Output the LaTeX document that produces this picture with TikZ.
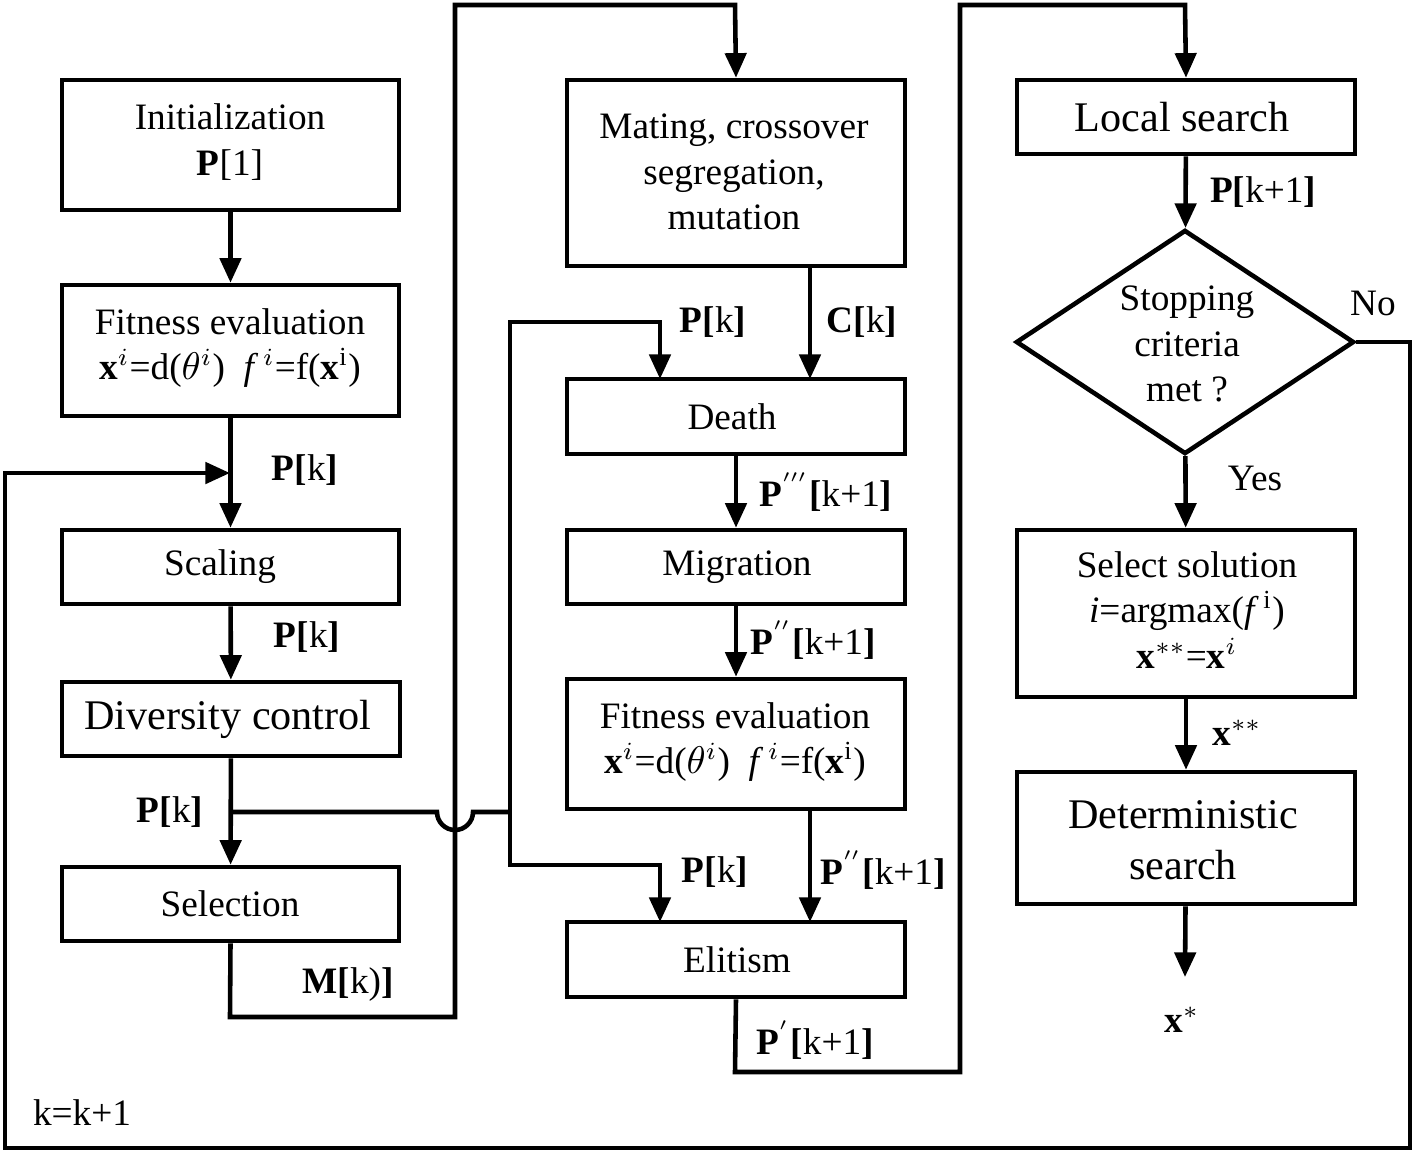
\documentclass[tikz,border=0pt]{standalone}
\usepackage{fontspec}
\setmainfont{Liberation Serif}
\usetikzlibrary{shapes.geometric,arrows.meta}
\begin{document}
\begin{tikzpicture}[x=0.01cm,y=-0.01cm,
 box/.style={draw,line width=1.3pt,align=center,inner sep=0pt,font=\fontsize{10.6}{13}\selectfont},
 big/.style={font=\fontsize{12}{14.5}\selectfont},
 lab/.style={font=\fontsize{10.6}{13}\selectfont,inner sep=0pt},
 ln/.style={line width=1.3pt},
 ar/.style={line width=1.3pt,-{Triangle[length=7pt,width=6pt]}}]
\useasboundingbox (0,0) rectangle (1415,1153);
\def\bx#1#2#3#4#5#6{\node[box,#6,minimum width={(#3-#2)*0.01cm},minimum height={(#5-#4)*0.01cm}] (#1) at ({(#2+#3)/2},{(#4+#5)/2}) {};}
\bx{init}{62}{399}{80}{210}{}
\bx{fit1}{62}{399}{285}{416}{}
\bx{scal}{62}{399}{530}{604}{}
\bx{div}{62}{400}{682}{756}{}
\bx{sel}{62}{399}{867}{941}{}
\bx{mat}{567}{905}{80}{266}{}
\bx{death}{567}{905}{379}{454}{}
\bx{mig}{567}{905}{530}{604}{}
\bx{fit2}{567}{905}{679}{809}{}
\bx{eli}{567}{905}{922}{997}{}
\bx{loc}{1017}{1355}{80}{154}{}
\bx{ssol}{1017}{1355}{530}{697}{}
\bx{det}{1017}{1355}{772}{904}{}
\node[draw,line width=1.3pt,diamond,minimum width=3.38cm,minimum height=2.24cm,inner sep=0pt,aspect=1.5] (dia) at (1185,342) {};
% texts
\node[lab,align=center] at (230,142) {Initialization\\\textbf{P}[1]};
\node[lab,align=center] at (230,348) {Fitness evaluation\\\textbf{x}$^{i}$=d($\theta^{i}$)\ \ \textit{f}$^{\,i}$=f(\textbf{x}$^{\mathrm{i}}$)};
\node[lab] at (220,567) {Scaling};
\node[lab,big] at (228,719) {Diversity control};
\node[lab] at (230,904) {Selection};
\node[lab,align=center] at (734,172) {Mating, crossover\\segregation,\\mutation};
\node[lab] at (732,417) {Death};
\node[lab] at (737,567) {Migration};
\node[lab,align=center] at (735,742) {Fitness evaluation\\\textbf{x}$^{i}$=d($\theta^{i}$)\ \ \textit{f}$^{\,i}$=f(\textbf{x}$^{\mathrm{i}}$)};
\node[lab] at (737,960) {Elitism};
\node[lab,big] at (1182,117) {Local search};
\node[lab,align=center] at (1187,344) {Stopping\\criteria\\met ?};
\node[lab,align=center] at (1187,610) {Select solution\\\textit{i}=argmax(\textit{f}$^{\,\mathrm{i}}$)\\\textbf{x}$^{**}$=\textbf{x}$^{i}$};
\node[lab,big,align=center] at (1183,840) {Deterministic\\search};
% arrows col1
\draw[ar] (init) -- (fit1);
\draw[ar] (fit1) -- (scal);
\draw[ar] (scal) -- (div);
\draw[ar] (div) -- (sel);
\coordinate (j1) at (230,473);
\draw[ar] (dia.east) -- (1410,342) -- (1410,1148) -- (5,1148) -- (5,473) -- (j1);
\draw[ln] (230,812) -- (437,812) arc[start angle=180,end angle=0,radius=18] -- (510,812);
\draw[ar] (510,812) -- (510,322) -- (660,322) -- (660,379);
\draw[ar] (510,812) -- (510,865) -- (660,865) -- (660,922);
\draw[ar] (sel.south) -- (230,1017) -- (455,1017) -- (455,5) -- (735,5) -- (mat.north);
\draw[ar] (810,266) -- (810,379);
\draw[ar] (death) -- (mig);
\draw[ar] (mig) -- (fit2);
\draw[ar] (810,809) -- (810,922);
\draw[ar] (eli.south) -- (735,1072) -- (960,1072) -- (960,5) -- (1185,5) -- (loc.north);
\draw[ar] (loc) -- (dia);
\draw[ar] (dia) -- (ssol);
\draw[ar] (ssol) -- (det);
\coordinate (xs) at (1185,977);
\draw[ar] (det) -- (xs);
% labels
\node[lab] at (305,470) {\textbf{P[}k\textbf{]}};
\node[lab] at (307,637) {\textbf{P[}k\textbf{]}};
\node[lab] at (170,812) {\textbf{P[}k\textbf{]}};
\node[lab] at (348,985) {\textbf{M[}k)\textbf{]}};
\node[lab] at (713,322) {\textbf{P[}k\textbf{]}};
\node[lab] at (862,322) {\textbf{C[}k\textbf{]}};
\node[lab] at (826,492) {\textbf{P}$^{'''}$\textbf{[}k+1\textbf{]}};
\node[lab] at (813,640) {\textbf{P}$^{''}$\textbf{[}k+1\textbf{]}};
\node[lab] at (715,872) {\textbf{P[}k\textbf{]}};
\node[lab] at (883,870) {\textbf{P}$^{''}$\textbf{[}k+1\textbf{]}};
\node[lab] at (815,1040) {\textbf{P}$^{'}$\textbf{[}k+1\textbf{]}};
\node[lab] at (1263,192) {\textbf{P[}k+1\textbf{]}};
\node[lab] at (1373,303) {No};
\node[lab] at (1255,478) {Yes};
\node[lab] at (1237,733) {\textbf{x}$^{**}$};
\node[lab] at (1182,1020) {\textbf{x}$^{*}$};
\node[lab] at (82,1113) {k=k+1};
\end{tikzpicture}
\end{document}
